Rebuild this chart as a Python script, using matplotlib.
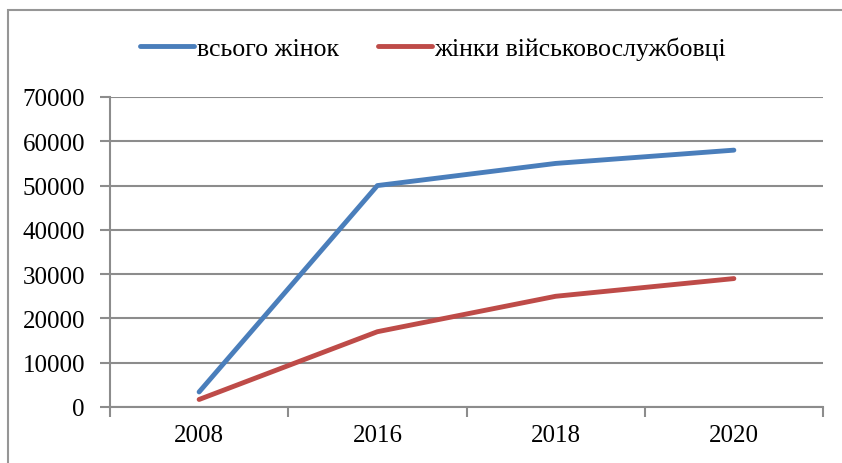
import matplotlib
matplotlib.use("Agg")
import matplotlib.pyplot as plt
from matplotlib.patches import Rectangle

# data
years = ["2008", "2016", "2018", "2020"]
total_women = [3400, 50000, 55000, 58000]
military_women = [1700, 17000, 25000, 29000]
series_names = ["всього жінок", "жінки військовослужбовці"]
yticks = [0, 10000, 20000, 30000, 40000, 50000, 60000, 70000]

plt.rcParams['font.family'] = ['Liberation Serif', 'DejaVu Serif']

fig = plt.figure(figsize=(8.42, 4.64), dpi=100)
W, H = 842, 464
ax = fig.add_axes([110 / W, 1 - 408 / H, 713 / W, 310 / H])

# outer chart frame (runs off the right and bottom edges)
fig.patches.append(Rectangle((8 / W, -0.05), 1.0, 1 - 11 / H + 0.05,
                             transform=fig.transFigure, fill=False,
                             edgecolor='#969696', linewidth=1.5))

x = range(len(years))
ax.plot(x, total_women, color='#4A7EBB', lw=3.5, solid_capstyle='round',
        label=series_names[0])
ax.plot(x, military_women, color='#BE4B48', lw=3.5, solid_capstyle='round',
        label=series_names[1])

ax.set_xlim(-0.5, len(years) - 0.5)
ax.set_ylim(0, 70000)
ax.set_yticks(yticks)
ax.set_yticklabels([str(v) for v in yticks], fontsize=18)
ax.yaxis.grid(True, color='#8c8c8c', lw=1.5)
ax.set_axisbelow(True)

# category labels centred, tick marks on slot boundaries
ax.set_xticks(list(x))
ax.set_xticklabels(years, fontsize=18)
ax.tick_params(axis='x', which='major', length=0, pad=12)
ax.set_xticks([i - 0.5 for i in range(len(years) + 1)], minor=True)
ax.tick_params(axis='x', which='minor', length=7, width=1.5, color='#8c8c8c')
ax.tick_params(axis='y', length=7, width=1.5, color='#8c8c8c', pad=11)

for side in ['top', 'right']:
    ax.spines[side].set_visible(False)
for side in ['left', 'bottom']:
    ax.spines[side].set_color('#8c8c8c')
    ax.spines[side].set_linewidth(1.5)

fig.legend(loc='center left', bbox_to_anchor=(140 / W, 1 - 49 / H), ncol=2,
           frameon=False, fontsize=18.6, handlelength=2.1, handletextpad=0.1,
           columnspacing=1.5, borderaxespad=0, borderpad=0)

fig.savefig("out.png", dpi=100)
